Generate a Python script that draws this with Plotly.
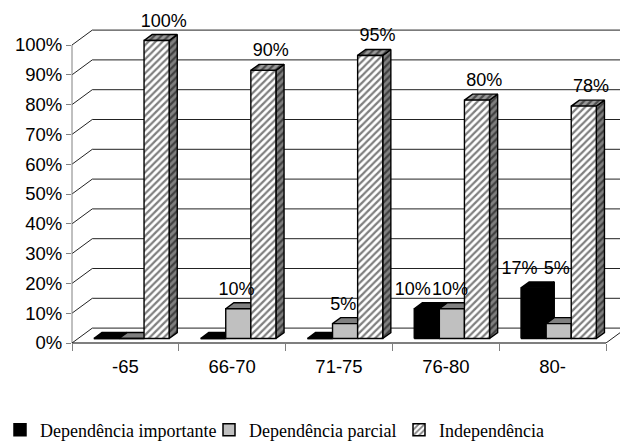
import plotly.graph_objects as go

# ---- data ----
categories = ["-65", "66-70", "71-75", "76-80", "80-"]
series_names = ["Dependência importante", "Dependência parcial", "Independência"]
dep_importante = [0, 0, 0, 10, 17]
dep_parcial = [0, 10, 5, 10, 5]
independencia = [100, 90, 95, 80, 78]
y_tick_values = list(range(0, 101, 10))
y_tick_labels = [f"{v}%" for v in y_tick_values]

series_values = [dep_importante, dep_parcial, independencia]

# ---- pseudo-3D geometry (in data units) ----
DX, DY = 0.19, 5.0          # projected depth of the floor / back wall
F0, F1 = 0.30, 0.70         # front and back depth fraction of each bar
BAR_W = 0.235
LABEL_SHIFT = [-0.17, -0.055, 0.03]   # horizontal nudge of value labels per series
N = len(categories)

HATCH = dict(shape="/", size=5, solidity=0.45)
face_styles = [
    dict(front=("black", None), top=("black", None), side=("black", None)),
    dict(front=("#c0c0c0", None), top=("#808080", None), side=("#808080", None)),
    dict(front=("white", dict(HATCH, fgcolor="black", bgcolor="white")),
         top=("#9a9a9a", dict(HATCH, fgcolor="black", bgcolor="#9a9a9a")),
         side=("#808080", dict(HATCH, fgcolor="black", bgcolor="#808080"))),
]
legend_styles = [
    dict(color="black", pattern=None),
    dict(color="#c0c0c0", pattern=None),
    dict(color="white", pattern=dict(HATCH, fgcolor="black", bgcolor="white")),
]
# one single-entry legend per series, laid out in a row along the bottom
LEGEND_IDS = ["legend", "legend2", "legend3"]
LEGEND_X = [0, 209, 399]   # container pixels

FONT = "Liberation Sans, Arial, sans-serif"
SERIF = "Liberation Serif, Times New Roman, serif"
fig = go.Figure()

# back wall gridlines with their diagonals to the front axis
gx, gy = [], []
for t in y_tick_values:
    gx += [0, DX, N + DX, None]
    gy += [t, t + DY, t + DY, None]
gx += [N, N + DX, None]
gy += [0, DY, None]
fig.add_trace(go.Scatter(x=gx, y=gy, mode="lines", line=dict(color="#222", width=1),
                         hoverinfo="skip", showlegend=False))


def add_face(xs, ys, style):
    color, pattern = style
    kw = dict(fillpattern=pattern) if pattern else {}
    fig.add_trace(go.Scatter(
        x=xs + [xs[0]], y=ys + [ys[0]], mode="lines", fill="toself",
        fillcolor=color, line=dict(color="black", width=1.4),
        hoverinfo="skip", showlegend=False, **kw))


fx0, fy0 = DX * F0, DY * F0
fx1, fy1 = DX * F1, DY * F1
label_x, label_y, label_t = [], [], []
for ci in range(N):
    for si, vals in enumerate(series_values):
        v = vals[ci]
        c = ci + 0.5 + (si - 1) * BAR_W
        x0, x1 = c - BAR_W / 2, c + BAR_W / 2
        st = face_styles[si]
        # side face
        add_face([x1 + fx0, x1 + fx1, x1 + fx1, x1 + fx0],
                 [fy0, fy1, v + fy1, v + fy0], st["side"])
        # top face
        add_face([x0 + fx0, x1 + fx0, x1 + fx1, x0 + fx1],
                 [v + fy0, v + fy0, v + fy1, v + fy1], st["top"])
        # front face
        add_face([x0 + fx0, x1 + fx0, x1 + fx0, x0 + fx0],
                 [fy0, fy0, v + fy0, v + fy0], st["front"])
        if v > 0:
            # a label is lifted to clear a taller bar standing to its left
            left = series_values[si - 1][ci] if si > 0 else 0
            label_x.append(c + DX * 0.5 + LABEL_SHIFT[si])
            label_y.append(max(v, left) + fy1 + 4.2)
            label_t.append(f"{v}%")

fig.add_trace(go.Scatter(x=label_x, y=label_y, text=label_t, mode="text",
                         textposition="middle center", cliponaxis=False,
                         textfont=dict(family=FONT, size=18, color="black"),
                         hoverinfo="skip", showlegend=False))

# legend entries
for name, ls, lid in zip(series_names, legend_styles, LEGEND_IDS):
    mk = dict(color=ls["color"], line=dict(color="black", width=1.5))
    if ls["pattern"]:
        mk["pattern"] = ls["pattern"]
    fig.add_trace(go.Bar(x=[-10], y=[0], name=name, marker=mk, hoverinfo="skip",
                         legend=lid, showlegend=True))

# front axis line and floor front edge
fig.add_shape(type="line", xref="x domain", yref="y", x0=0, x1=0, y0=0, y1=100,
              line=dict(color="#808080", width=1))
fig.add_shape(type="line", xref="x", yref="y domain", x0=0, x1=N, y0=0, y1=0,
              line=dict(color="black", width=1.2))

legend_layout = {}
for lid, lx in zip(LEGEND_IDS, LEGEND_X):
    legend_layout[lid] = dict(
        orientation="h", xref="container", yref="container",
        x=lx / 620, y=12 / 442, xanchor="left", yanchor="middle",
        font=dict(family=SERIF, size=18, color="black"),
        itemwidth=30, bgcolor="rgba(0,0,0,0)")

X_RANGE = [0, 548 / 106.8]
fig.update_layout(
    width=620, height=442,
    margin=dict(l=72, r=0, t=5, b=99),
    paper_bgcolor="white", plot_bgcolor="white",
    showlegend=True,
    xaxis=dict(range=X_RANGE, tickvals=[i + 0.5 for i in range(N)], ticktext=categories,
               ticks="", showgrid=False, zeroline=False, showline=False,
               ticklabelstandoff=10,
               tickfont=dict(family=FONT, size=18.5, color="black")),
    xaxis2=dict(range=X_RANGE, overlaying="x", anchor="y", side="bottom",
                tickvals=list(range(N + 1)), ticks="outside", ticklen=7,
                tickcolor="#808080", showticklabels=False, showgrid=False,
                zeroline=False, showline=False),
    yaxis=dict(range=[0, 338 / 2.98], tickvals=y_tick_values, ticktext=y_tick_labels,
               ticks="outside", ticklen=5, tickcolor="#808080",
               showgrid=False, zeroline=False, showline=False,
               tickfont=dict(family=FONT, size=18.5, color="black")),
    **legend_layout,
)
# a hidden trace keeps the tick-only axis active
fig.add_trace(go.Scatter(x=[None], y=[None], xaxis="x2", yaxis="y", showlegend=False,
                         hoverinfo="skip"))

fig.write_html("out.html")
